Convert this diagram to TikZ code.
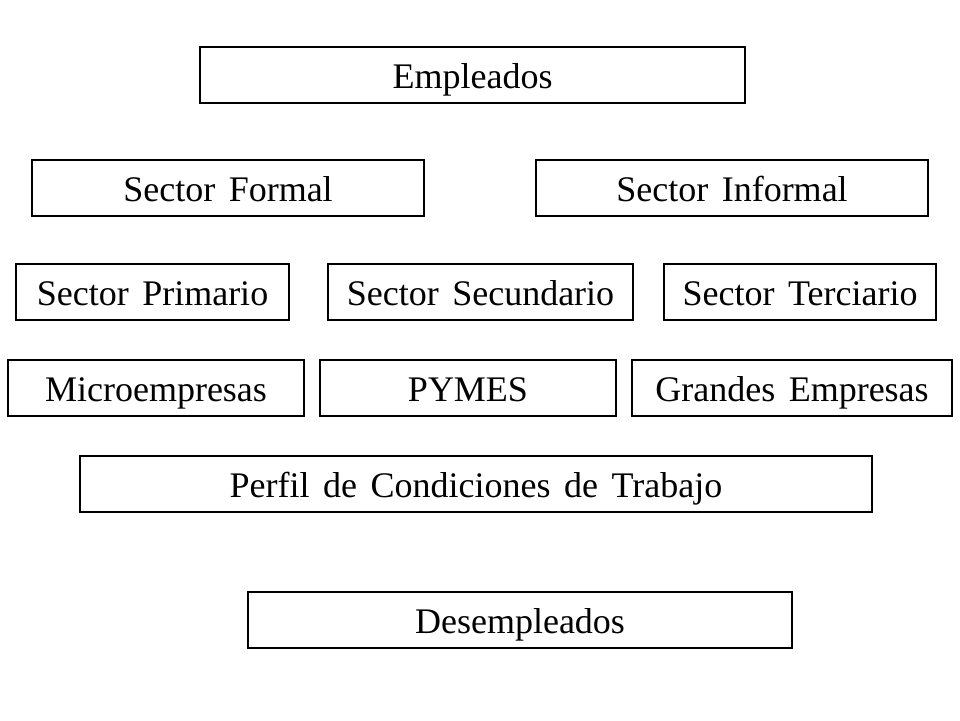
\documentclass[tikz,border=0pt]{standalone}
\usepackage{fontspec}
\setmainfont{Liberation Serif}[WordSpace=1.5]
\begin{document}
\begin{tikzpicture}[x=1pt,y=-1pt,
  box/.style={draw=black, line width=1.2pt, rectangle, inner sep=0pt, outer sep=0pt,
    minimum height=56pt, text height=31pt, text depth=4pt, font=\fontsize{36}{40}\selectfont}]
\useasboundingbox[fill=white] (0,0) rectangle (960,720);
\node[box, minimum width=545pt] (emp) at (472.5,75) {Empleados};
\node[box, minimum width=392pt] (formal) at (228,188) {Sector Formal};
\node[box, minimum width=392pt] (informal) at (732,188) {Sector Informal};
\node[box, minimum width=273pt] (prim) at (152.5,292) {Sector Primario};
\node[box, minimum width=305pt] (sec) at (480.5,292) {Sector Secundario};
\node[box, minimum width=272pt] (ter) at (800,292) {Sector Terciario};
\node[box, minimum width=296pt] (micro) at (156,388) {Microempresas};
\node[box, minimum width=296pt] (pymes) at (468,388) {PYMES};
\node[box, minimum width=320pt] (grandes) at (792,388) {Grandes Empresas};
\node[box, minimum width=792pt] (perfil) at (476,484) {Perfil de Condiciones de Trabajo};
\node[box, minimum width=544pt] (desemp) at (520,620) {Desempleados};
\end{tikzpicture}
\end{document}
